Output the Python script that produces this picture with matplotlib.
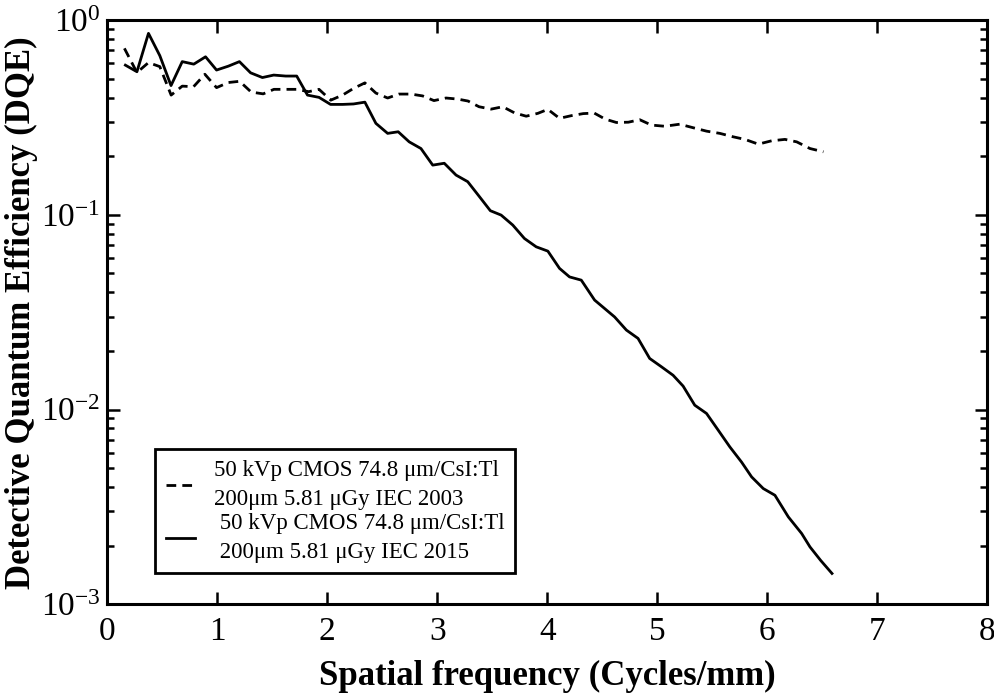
import matplotlib
matplotlib.use("Agg")
import matplotlib.pyplot as plt
from matplotlib.ticker import LogFormatterMathtext, LogLocator, MultipleLocator

plt.rcParams['font.family'] = ['Liberation Serif', 'DejaVu Serif']
plt.rcParams['mathtext.fontset'] = 'custom'
plt.rcParams['mathtext.rm'] = 'Liberation Serif'
plt.rcParams['mathtext.it'] = 'Liberation Serif:italic'
plt.rcParams['mathtext.bf'] = 'Liberation Serif:bold'

# Datos
freq_2015 = [0.164, 0.269, 0.374, 0.477, 0.579, 0.681, 0.786, 0.893, 0.993, 1.100,
             1.201, 1.303, 1.410, 1.513, 1.622, 1.722, 1.820, 1.925, 2.030, 2.139,
             2.239, 2.342, 2.442, 2.549, 2.645, 2.745, 2.852, 2.959, 3.064, 3.171,
             3.277, 3.374, 3.483, 3.581, 3.687, 3.793, 3.900, 4.006, 4.112, 4.203,
             4.310, 4.431, 4.613, 4.720, 4.826, 4.932, 5.038, 5.145, 5.236, 5.342,
             5.449, 5.555, 5.661, 5.768, 5.859, 5.965, 6.071, 6.193, 6.314, 6.390,
             6.487, 6.590]
dqe_2015 = [0.587, 0.543, 0.855, 0.657, 0.461, 0.612, 0.594, 0.648, 0.554, 0.580,
            0.612, 0.536, 0.507, 0.522, 0.516, 0.516, 0.412, 0.401, 0.369, 0.369,
            0.371, 0.379, 0.295, 0.262, 0.267, 0.237, 0.219, 0.180, 0.184, 0.160,
            0.148, 0.126, 0.105, 0.0997, 0.0886, 0.0756, 0.0685, 0.0651, 0.0531, 0.0480,
            0.0462, 0.0365, 0.0299, 0.0256, 0.0232, 0.0183, 0.0166, 0.0150, 0.0132, 0.01053,
            0.00955, 0.00784, 0.00643, 0.00537, 0.00451, 0.00393, 0.00363, 0.00281, 0.00231, 0.00197,
            0.00168, 0.00144]

freq_2003 = [0.155, 0.269, 0.374, 0.477, 0.580, 0.681, 0.784, 0.887, 0.993, 1.100,
             1.203, 1.308, 1.417, 1.515, 1.622, 1.722, 1.831, 1.925, 2.032, 2.139,
             2.239, 2.342, 2.442, 2.549, 2.651, 2.761, 2.867, 2.970, 3.080, 3.186,
             3.280, 3.380, 3.490, 3.596, 3.702, 3.809, 3.915, 4.006, 4.112, 4.219,
             4.328, 4.428, 4.528, 4.629, 4.738, 4.841, 4.948, 5.069, 5.205, 5.328,
             5.449, 5.570, 5.692, 5.798, 5.920, 6.041, 6.162, 6.269, 6.390, 6.512]
dqe_2003 = [0.716, 0.538, 0.605, 0.577, 0.412, 0.458, 0.455, 0.527, 0.450, 0.478,
            0.485, 0.427, 0.418, 0.441, 0.441, 0.441, 0.429, 0.441, 0.388, 0.412,
            0.446, 0.476, 0.422, 0.398, 0.417, 0.417, 0.408, 0.386, 0.398, 0.393,
            0.384, 0.359, 0.349, 0.359, 0.334, 0.321, 0.332, 0.348, 0.313, 0.323,
            0.331, 0.333, 0.310, 0.298, 0.299, 0.308, 0.289, 0.285, 0.292, 0.280,
            0.269, 0.262, 0.2515, 0.244, 0.2307, 0.240, 0.244, 0.237, 0.219, 0.2107]

label_2003 = '50 kVp CMOS 74.8 μm/CsI:Tl\n200μm 5.81 μGy IEC 2003'
label_2015 = ' 50 kVp CMOS 74.8 μm/CsI:Tl\n 200μm 5.81 μGy IEC 2015'

fig = plt.figure(figsize=(9.94, 6.93), dpi=100)
ax = fig.add_axes([0.108, 0.128, 0.885, 0.843])

ax.plot(freq_2003, dqe_2003, color='black', lw=2, linestyle=(0, (3.5, 2.2)), label=label_2003)
ax.plot(freq_2015, dqe_2015, color='black', lw=2, linestyle='-', label=label_2015)

ax.set_yscale('log')
ax.set_xlim(0, 8)
ax.set_ylim(1e-3, 1)
ax.xaxis.set_major_locator(MultipleLocator(1))
ax.yaxis.set_major_locator(LogLocator(base=10))
ax.yaxis.set_minor_locator(LogLocator(base=10, subs=range(2, 10)))
ax.yaxis.set_major_formatter(LogFormatterMathtext())

ax.tick_params(which='both', direction='in', top=True, right=True, width=1.8)
ax.tick_params(which='major', length=9, labelsize=24)
ax.tick_params(axis='x', which='major', pad=9)
ax.tick_params(axis='y', which='major', pad=5)
ax.tick_params(which='minor', length=5)
for s in ax.spines.values():
    s.set_linewidth(2.2)

ax.set_xlabel('Spatial frequency (Cycles/mm)', fontsize=25, fontweight='bold', labelpad=9)
ax.set_ylabel('Detective Quantum Efficiency (DQE)', fontsize=25, fontweight='bold', labelpad=2)

leg = ax.legend(loc='lower left', bbox_to_anchor=(0.0545, 0.053), borderaxespad=0,
                fontsize=16.5, fancybox=False, framealpha=1, edgecolor='black',
                handlelength=1.3, handletextpad=0.8, labelspacing=0.15, borderpad=0.45)
leg.get_frame().set_linewidth(2)
for t in leg.get_texts():
    t.set_linespacing(1.5)

plt.savefig('out.png', dpi=100)
